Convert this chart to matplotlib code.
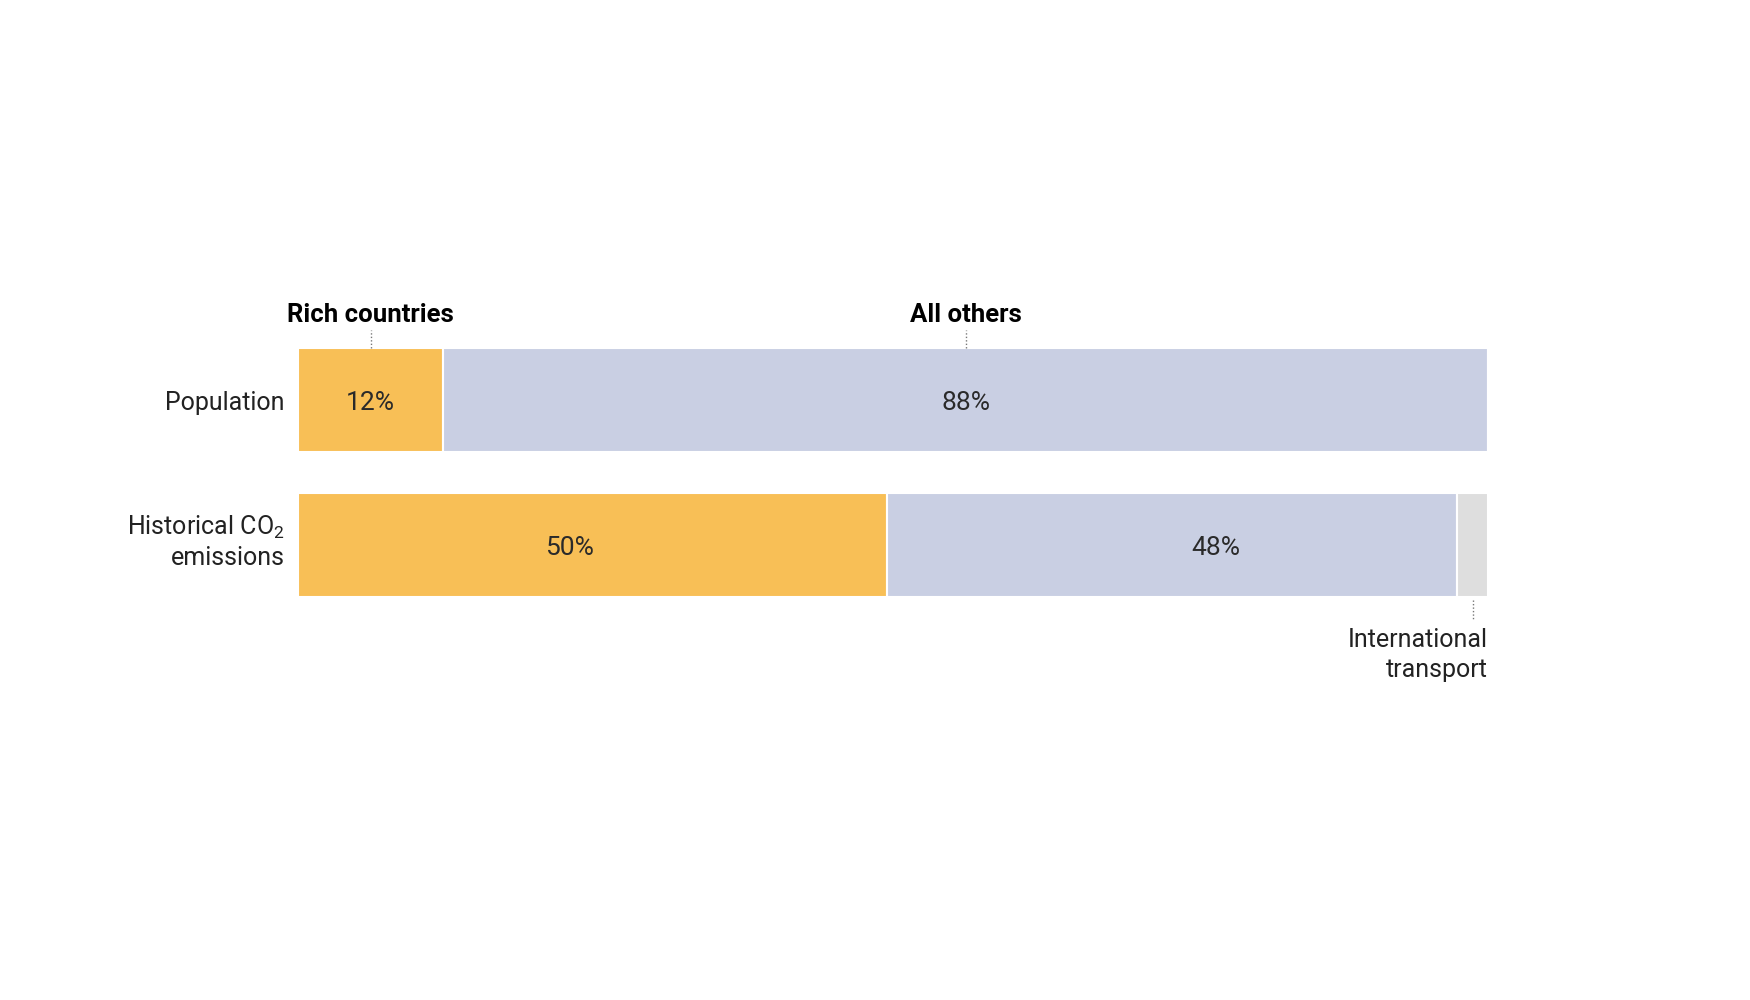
import matplotlib
matplotlib.use("Agg")
import matplotlib.pyplot as plt
import numpy as np

# data
rows = ["Population", "Historical CO$_2$\nemissions"]
groups = ["Rich countries", "All others", "International transport"]
shares = {
    "Rich countries": [12.2, 49.5],
    "All others": [87.8, 47.9],
    "International transport": [0.0, 2.6],
}
pct_labels = [["12%", "88%", ""], ["50%", "48%", ""]]

colors = {"Rich countries": "#F8BF56", "All others": "#C9CFE3", "International transport": "#DEDEDE"}

# label nudges (in % units) for the in-bar numbers, as in the original
nudge = [[0, 0, 0], [-1.9, 3.7, 0]]

plt.rcParams['font.family'] = ['Roboto', 'DejaVu Sans']
plt.rcParams['mathtext.fontset'] = 'custom'
plt.rcParams['mathtext.rm'] = 'Roboto'
plt.rcParams['mathtext.it'] = 'Roboto'

fig = plt.figure(figsize=(17.5, 10), dpi=100)
ax = fig.add_axes([298/1750, 0, 1190/1750, 1])
ax.set_xlim(0, 100)
ax.set_ylim(4.14, -2.76)
ax.axis('off')

bar_h = 0.72
y = np.arange(len(rows))
left = np.zeros(len(rows))
for gi, g in enumerate(groups):
    vals = np.array(shares[g])
    ax.barh(y, vals, left=left, height=bar_h, color=colors[g],
            edgecolor='white', linewidth=1.5)
    for ri in range(len(rows)):
        if pct_labels[ri][gi]:
            ax.text(left[ri] + vals[ri] / 2 + nudge[ri][gi], y[ri] + 0.02, pct_labels[ri][gi],
                    ha='center', va='center', fontsize=19, color='#2a2a2a')
    left = left + vals

# row labels
row_dy = [0.02, -0.02]
for ri, r in enumerate(rows):
    ax.text(-1.1, y[ri] + row_dy[ri], r, ha='right', va='center', fontsize=18,
            color='#222222', multialignment='right', linespacing=1.3)

# top callouts with dotted leaders
top = y[0] - bar_h / 2
x_rich = shares["Rich countries"][0] / 2
x_oth = shares["Rich countries"][0] + shares["All others"][0] / 2
for xx, name in [(x_rich, "Rich countries"), (x_oth, "All others")]:
    ax.plot([xx, xx], [top, top - 0.125], ls=(0, (1, 1.5)), lw=1, color='#777777')
    ax.text(xx, top - 0.18, name, ha='center', va='baseline', fontsize=18.5,
            fontweight='bold', color='black')

# international transport callout
bot = y[1] + bar_h / 2
x_int = 100 - shares["International transport"][1] / 2
ax.plot([x_int, x_int], [bot + 0.02, bot + 0.155], ls=(0, (1, 1.5)), lw=1, color='#777777')
ax.text(100, bot + 0.215, "International\ntransport", ha='right', va='top', fontsize=18,
        color='#222222', multialignment='right', linespacing=1.3)

fig.savefig("out.png", dpi=100, facecolor='white')
